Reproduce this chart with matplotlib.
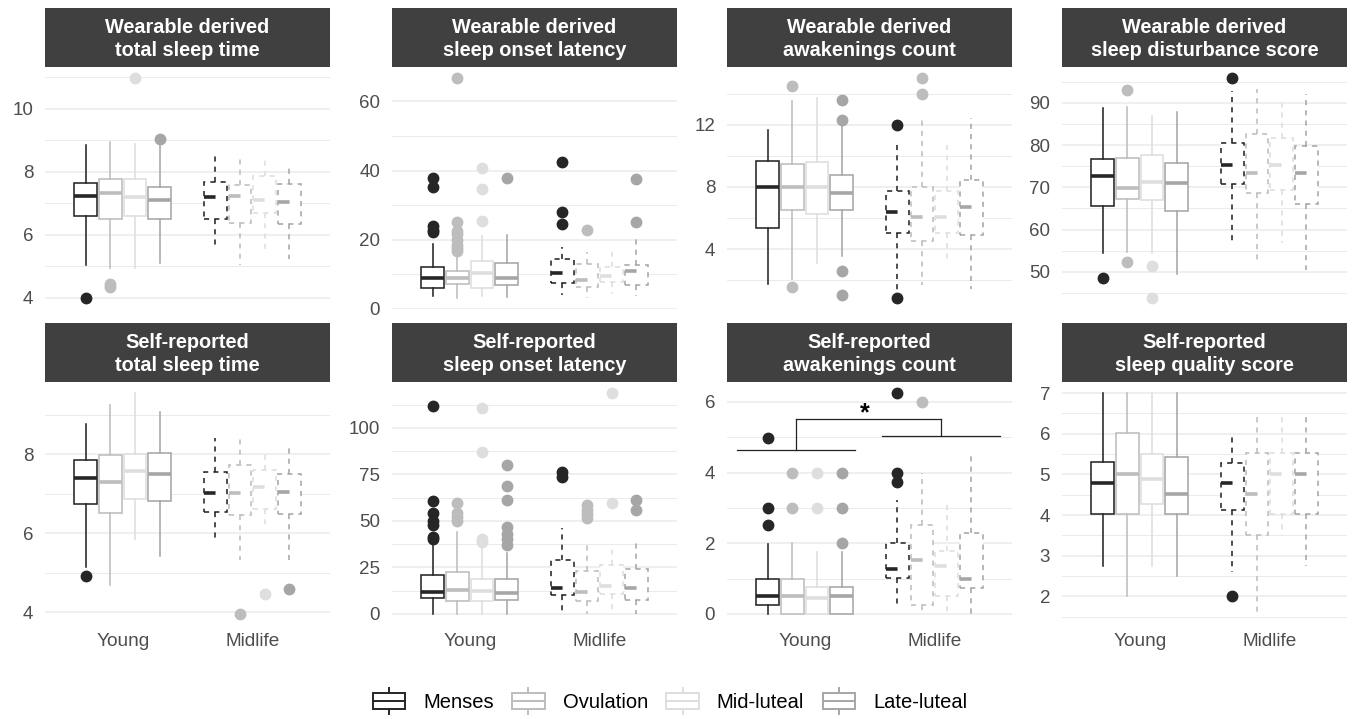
import matplotlib
matplotlib.use("Agg")
import matplotlib.pyplot as plt
import numpy as np
from matplotlib.legend_handler import HandlerBase
from matplotlib.lines import Line2D
from matplotlib.patches import Rectangle

plt.rcParams["font.family"] = ["Liberation Sans", "DejaVu Sans"]

PHASES = ["Menses", "Ovulation", "Mid-luteal", "Late-luteal"]
GROUPS = ["Young", "Midlife"]
PHASE_COLORS = ["#262626", "#BDBDBD", "#DEDEDE", "#A6A6A6"]
GROUP_STYLES = ["solid", (0, (3.2, 3.2))]

# (whislo, q1, median, q3, whishi) -- Young: M, O, ML, LL then Midlife: M, O, ML, LL
W_TST = [(5.03, 6.59, 7.24, 7.64, 8.84), (4.96, 6.50, 7.33, 7.78, 8.95),
         (4.96, 6.61, 7.19, 7.78, 8.87), (5.12, 6.50, 7.10, 7.51, 8.90),
         (5.60, 6.50, 7.19, 7.67, 8.57), (5.06, 6.37, 7.22, 7.59, 8.44),
         (5.52, 6.68, 7.09, 7.85, 8.47), (5.22, 6.34, 7.05, 7.62, 8.15)]
W_TST_OUT = [[4.0], [4.35, 4.45], [10.97], [9.05], [], [], [], []]

W_SOL = [(3.6, 5.9, 9.0, 12.2, 18.6), (3.1, 7.1, 9.0, 10.8, 15.8),
         (3.6, 5.9, 10.2, 13.7, 21.0), (3.3, 6.9, 9.0, 13.3, 21.3),
         (4.1, 7.3, 10.2, 14.5, 17.9), (3.1, 6.3, 8.3, 12.8, 16.4),
         (4.3, 7.6, 9.5, 12.0, 17.4), (3.6, 6.9, 10.8, 12.7, 20.4)]
W_SOL_OUT = [[22.3, 22.8, 24.0, 35.3, 37.8],
             [16.8, 17.5, 18.5, 20.0, 21.5, 22.5, 25.0, 66.8],
             [25.5, 34.8, 40.8], [37.9],
             [24.5, 28.0, 42.6], [22.8], [], [25.0, 37.6]]

W_AWK = [(1.72, 5.35, 8.02, 9.63, 11.65), (2.10, 6.54, 8.00, 9.50, 13.50),
         (3.09, 6.28, 8.00, 9.59, 13.74), (3.57, 6.50, 7.63, 8.78, 12.00),
         (1.28, 5.04, 6.35, 7.74, 10.96), (1.67, 4.54, 6.07, 8.02, 12.48),
         (3.24, 5.04, 6.07, 7.76, 10.67), (1.46, 4.87, 6.72, 8.46, 12.41)]
W_AWK_OUT = [[], [1.57, 14.5], [], [1.07, 2.59, 12.33, 13.57],
             [0.85, 12.0], [14.0, 15.0], [], []]

W_DIST = [(54.4, 65.7, 72.8, 76.8, 88.7), (54.8, 67.3, 69.9, 76.9, 88.95),
          (54.4, 67.1, 71.2, 77.6, 87.0), (49.4, 64.5, 71.1, 75.7, 87.8),
          (56.9, 70.9, 75.4, 80.4, 92.9), (52.5, 68.7, 73.3, 82.6, 93.2),
          (56.9, 69.3, 75.3, 81.6, 90.0), (50.4, 66.1, 73.4, 79.8, 92.1)]
W_DIST_OUT = [[48.6], [52.4, 93.1], [43.8, 51.4], [], [95.9], [], [], []]

S_TST = [(5.16, 6.75, 7.40, 7.85, 8.77), (4.69, 6.52, 7.29, 7.98, 9.25),
         (5.85, 6.86, 7.57, 8.00, 9.55), (5.42, 6.81, 7.51, 8.03, 9.08),
         (5.82, 6.55, 7.01, 7.54, 8.40), (5.33, 6.47, 7.01, 7.74, 8.46),
         (6.17, 6.61, 7.18, 7.61, 8.07), (5.23, 6.48, 7.04, 7.51, 8.23)]
S_TST_OUT = [[4.92], [], [], [], [], [3.96], [4.46], [4.60]]

S_SOL = [(0.0, 8.6, 11.6, 20.8, 38.4), (0.0, 7.2, 13.0, 22.6, 44.2),
         (0.0, 6.7, 12.1, 18.8, 35.7), (0.0, 7.6, 11.2, 19.0, 32.6),
         (0.0, 10.0, 13.9, 28.8, 46.2), (0.0, 6.7, 11.8, 23.0, 37.9),
         (0.0, 10.7, 14.9, 26.3, 35.7), (0.0, 7.6, 13.9, 24.3, 39.3)]
S_SOL_OUT = [[40.2, 41.5, 48.0, 49.8, 54.2, 60.5, 112.0],
             [49.8, 52.0, 54.2, 59.6],
             [38.4, 40.2, 86.8, 110.9],
             [37.1, 40.2, 42.9, 46.6, 61.4, 68.8, 80.1],
             [73.7, 76.4], [51.6, 53.8, 56.0, 58.3],
             [59.6, 118.7], [56.0, 61.0]]

S_AWK = [(0.0, 0.26, 0.52, 1.0, 1.99), (0.0, 0.0, 0.5, 1.0, 2.0),
         (0.0, 0.0, 0.45, 0.75, 1.74), (0.0, 0.0, 0.5, 0.75, 1.74),
         (0.26, 1.02, 1.26, 2.02, 3.23), (0.0, 0.24, 1.52, 2.53, 4.0),
         (0.0, 0.52, 1.37, 1.78, 3.23), (0.0, 0.73, 1.0, 2.28, 4.46)]
S_AWK_OUT = [[2.52, 3.0, 4.98], [3.0, 4.0], [3.0, 4.0], [2.0, 3.0, 4.0],
             [3.74, 4.0, 6.25], [6.0], [], []]

S_QUAL = [(2.75, 4.02, 4.78, 5.31, 7.0), (2.0, 4.02, 5.02, 6.01, 7.0),
          (2.75, 4.27, 4.89, 5.50, 7.0), (2.51, 4.02, 4.51, 5.44, 7.0),
          (2.61, 4.13, 4.78, 5.27, 5.99), (1.57, 3.51, 4.51, 5.52, 6.43),
          (3.51, 4.02, 5.02, 5.52, 6.43), (2.76, 4.02, 5.02, 5.52, 6.43)]
S_QUAL_OUT = [[], [], [], [], [2.0], [], [], []]

TITLES = ["Wearable derived\ntotal sleep time", "Wearable derived\nsleep onset latency",
          "Wearable derived\nawakenings count", "Wearable derived\nsleep disturbance score",
          "Self-reported\ntotal sleep time", "Self-reported\nsleep onset latency",
          "Self-reported\nawakenings count", "Self-reported\nsleep quality score"]
Y_BREAKS = [[4, 6, 8, 10], [0, 20, 40, 60], [0, 4, 8, 12, 16], [40, 50, 60, 70, 80, 90, 100],
            [4, 6, 8], [0, 25, 50, 75, 100], [0, 2, 4, 6], [2, 3, 4, 5, 6, 7]]
STATS = [W_TST, W_SOL, W_AWK, W_DIST, S_TST, S_SOL, S_AWK, S_QUAL]
OUTLIERS = [W_TST_OUT, W_SOL_OUT, W_AWK_OUT, W_DIST_OUT,
            S_TST_OUT, S_SOL_OUT, S_AWK_OUT, S_QUAL_OUT]

# significance bracket in the self-reported awakenings panel (Young vs Midlife)
SIG_PANEL = 6
SIG_CENTERS = [0.93, 2.05]
SIG_HALF_SPAN = 0.455
SIG_LEVELS = [4.63, 5.03]
SIG_TOP = 5.52
SIG_LABEL = "*"

DODGE = 0.19
BOX_W = 0.175


class BoxKey(HandlerBase):
    def create_artists(self, legend, orig_handle, xdescent, ydescent,
                       width, height, fontsize, trans):
        c = orig_handle.get_color()
        x0, y0 = -xdescent, -ydescent
        lw = 1.4
        rect = Rectangle((x0 + 0.1 * width, y0 + 0.2 * height), 0.8 * width, 0.6 * height,
                         facecolor="white", edgecolor=c, lw=lw, transform=trans)
        med = Line2D([x0 + 0.1 * width, x0 + 0.9 * width], [y0 + 0.5 * height] * 2,
                     color=c, lw=lw, transform=trans)
        top = Line2D([x0 + 0.5 * width] * 2, [y0 + 0.8 * height, y0 + height],
                     color=c, lw=lw, transform=trans)
        bot = Line2D([x0 + 0.5 * width] * 2, [y0, y0 + 0.2 * height],
                     color=c, lw=lw, transform=trans)
        return [rect, med, top, bot]


def draw_panel(ax, stats, outliers, breaks):
    z = 2
    for g, group in enumerate(GROUPS):
        ls = GROUP_STYLES[g]
        for p, color in enumerate(PHASE_COLORS):
            lo, q1, med, q3, hi = stats[g * 4 + p]
            pos = g + 1 + (p - 1.5) * DODGE
            ax.bxp([dict(whislo=lo, q1=q1, med=med, q3=q3, whishi=hi,
                         fliers=np.array(outliers[g * 4 + p]))],
                   positions=[pos], widths=[BOX_W], patch_artist=True,
                   showcaps=False, manage_ticks=False, zorder=z,
                   boxprops=dict(facecolor="white", edgecolor=color, linewidth=1.15, linestyle=ls),
                   whiskerprops=dict(color=color, linewidth=1.15, linestyle=ls),
                   medianprops=dict(color=color, linewidth=2.6, linestyle=ls,
                                    solid_capstyle="butt"),
                   flierprops=dict(marker="o", markerfacecolor=color, markeredgecolor=color,
                                   markersize=7.5, linestyle="none"))
            z += 1

    values = [v for s in stats for v in (s[0], s[4])] + [v for o in outliers for v in o]
    lo, hi = min(values), max(values)
    pad = 0.05 * (hi - lo)
    ylim = (lo - pad, hi + pad)
    ax.set_ylim(*ylim)
    ax.set_xlim(0.4, 2.6)

    step = breaks[1] - breaks[0]
    major = [b for b in breaks if ylim[0] <= b <= ylim[1]]
    minor = [b for b in np.arange(breaks[0] - step / 2, breaks[-1] + step, step)
             if ylim[0] <= b <= ylim[1]]
    ax.set_yticks(major)
    ax.set_yticks(minor, minor=True)
    ax.grid(axis="y", which="major", color="#EBEBEB", linewidth=1.1, zorder=0)
    ax.grid(axis="y", which="minor", color="#EBEBEB", linewidth=0.7, zorder=0)
    ax.set_axisbelow(True)
    for s in ax.spines.values():
        s.set_visible(False)
    ax.tick_params(axis="y", which="both", length=0, labelsize=13.5,
                   labelcolor="#4D4D4D", pad=8.5)
    ax.tick_params(axis="x", length=0, labelsize=13.7, labelcolor="#4D4D4D", pad=6)
    ax.set_xticks([1, 2])


W, H = 1355, 719
fig = plt.figure(figsize=(W / 100, H / 100), dpi=100)

col_left = [45, 392, 727, 1062]
panel_w = 285
rows = [(8, 67, 309), (323, 382, 625)]  # strip top, panel top, panel bottom (px)

for i in range(8):
    r, c = divmod(i, 4)
    st, pt, pb = rows[r]
    x0 = col_left[c]
    ax = fig.add_axes([x0 / W, 1 - pb / H, panel_w / W, (pb - pt) / H])
    draw_panel(ax, STATS[i], OUTLIERS[i], Y_BREAKS[i])
    if r == 1:
        ax.set_xticklabels(GROUPS)
    else:
        ax.set_xticklabels([])

    strip = fig.add_axes([x0 / W, 1 - pt / H, panel_w / W, (pt - st) / H])
    strip.set_facecolor("#404040")
    strip.set_xticks([])
    strip.set_yticks([])
    for s in strip.spines.values():
        s.set_visible(False)
    strip.text(0.5, 0.47, TITLES[i], ha="center", va="center", color="white",
               fontsize=14.3, fontweight="bold", linespacing=1.25, transform=strip.transAxes)

    if i == SIG_PANEL:
        kw = dict(color="#222222", linewidth=0.9, zorder=20)
        for cx, lvl in zip(SIG_CENTERS, SIG_LEVELS):
            ax.plot([cx - SIG_HALF_SPAN, cx + SIG_HALF_SPAN], [lvl, lvl], **kw)
            ax.plot([cx, cx], [lvl, SIG_TOP], **kw)
        ax.plot(SIG_CENTERS, [SIG_TOP, SIG_TOP], **kw)
        ax.text(np.mean(SIG_CENTERS) - 0.03, SIG_TOP + 0.16, SIG_LABEL, ha="center",
                va="center", fontsize=18, fontweight="bold", color="black", zorder=21)

handles = [Line2D([], [], color=c, label=p) for p, c in zip(PHASES, PHASE_COLORS)]
fig.legend(handles=handles, loc="center", bbox_to_anchor=(668 / W, 1 - 701 / H),
           ncol=4, frameon=False, fontsize=14.5, handlelength=2.0, handleheight=1.65,
           handletextpad=0.7, columnspacing=0.72, handler_map={Line2D: BoxKey()})

fig.savefig("out.png", dpi=100)
